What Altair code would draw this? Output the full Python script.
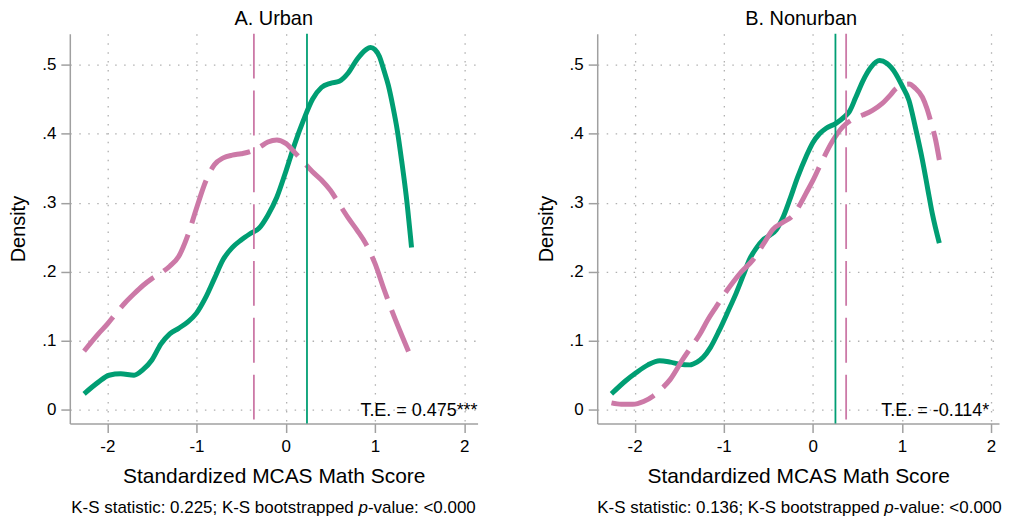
import altair as alt
import pandas as pd

GREEN = "#009E73"
PINK = "#CC79A7"
FONT = "Liberation Sans"

# ---------------- Panel A: Urban ----------------
a_title = "A. Urban"
a_green_x = [-2.26, -2.10, -1.98, -1.85, -1.70, -1.60, -1.50, -1.40, -1.30, -1.20, -1.10, -1.00,
             -0.90, -0.80, -0.70, -0.60, -0.50, -0.40, -0.30, -0.20, -0.10, 0.00, 0.10, 0.20,
             0.30, 0.40, 0.50, 0.60, 0.70, 0.80, 0.90, 0.95, 1.00, 1.05, 1.10, 1.15, 1.20,
             1.25, 1.30, 1.35, 1.41]
a_green_y = [0.023, 0.040, 0.050, 0.052, 0.050, 0.058, 0.072, 0.095, 0.110, 0.118, 0.127, 0.140,
             0.162, 0.190, 0.218, 0.235, 0.246, 0.255, 0.263, 0.282, 0.308, 0.345, 0.385, 0.420,
             0.450, 0.467, 0.473, 0.476, 0.488, 0.508, 0.522, 0.525, 0.522, 0.512, 0.492, 0.470,
             0.440, 0.405, 0.360, 0.310, 0.235]
a_pink_x = [-2.26, -2.10, -2.00, -1.90, -1.80, -1.70, -1.60, -1.50, -1.40, -1.30, -1.20, -1.10,
            -1.00, -0.90, -0.80, -0.70, -0.60, -0.50, -0.40, -0.30, -0.20, -0.10, 0.00, 0.10,
            0.20, 0.30, 0.40, 0.50, 0.60, 0.70, 0.80, 0.90, 1.00, 1.10, 1.20, 1.30, 1.39]
a_pink_y = [0.085, 0.110, 0.124, 0.140, 0.155, 0.168, 0.180, 0.190, 0.198, 0.208, 0.222, 0.252,
            0.292, 0.330, 0.355, 0.365, 0.369, 0.371, 0.374, 0.380, 0.388, 0.391, 0.386, 0.373,
            0.359, 0.345, 0.333, 0.318, 0.298, 0.278, 0.260, 0.240, 0.212, 0.175, 0.140, 0.108,
            0.080]
a_green_mean = 0.238
a_pink_mean = -0.357
a_te = "T.E. = 0.475***"
a_ks = "K-S statistic: 0.225; K-S bootstrapped"

# ---------------- Panel B: Nonurban ----------------
b_title = "B. Nonurban"
b_green_x = [-2.26, -2.10, -1.98, -1.85, -1.72, -1.60, -1.49, -1.38, -1.30, -1.23, -1.15, -1.05,
             -0.95, -0.86, -0.78, -0.71, -0.63, -0.56, -0.48, -0.41, -0.33, -0.26, -0.17, -0.075,
             0.00, 0.075, 0.15, 0.26, 0.35, 0.41, 0.48, 0.56, 0.65, 0.75, 0.83, 0.93, 1.00,
             1.08, 1.15, 1.23, 1.29, 1.34, 1.42]
b_green_y = [0.023, 0.042, 0.054, 0.065, 0.071, 0.069, 0.066, 0.065, 0.069, 0.076, 0.090, 0.115,
             0.143, 0.169, 0.195, 0.218, 0.235, 0.246, 0.253, 0.261, 0.280, 0.304, 0.337, 0.367,
             0.387, 0.400, 0.408, 0.415, 0.424, 0.432, 0.452, 0.476, 0.496, 0.506, 0.502, 0.487,
             0.470, 0.448, 0.410, 0.362, 0.320, 0.285, 0.2415]
b_pink_x = [-2.26, -2.15, -2.02, -1.90, -1.79, -1.70, -1.60, -1.46, -1.37, -1.27, -1.18, -1.08,
            -0.99, -0.90, -0.80, -0.67, -0.55, -0.45, -0.33, -0.22, -0.15, -0.075, 0.00, 0.11,
            0.22, 0.336, 0.45, 0.56, 0.67, 0.78, 0.87, 0.93, 1.00, 1.08, 1.15, 1.23, 1.28,
            1.33, 1.38, 1.42]
b_pink_y = [0.010, 0.008, 0.008, 0.012, 0.020, 0.030, 0.044, 0.073, 0.090, 0.109, 0.130, 0.150,
            0.168, 0.184, 0.200, 0.2175, 0.241, 0.261, 0.272, 0.282, 0.296, 0.314, 0.332, 0.362,
            0.389, 0.410, 0.421, 0.427, 0.434, 0.444, 0.456, 0.465, 0.470, 0.472, 0.466, 0.453,
            0.437, 0.415, 0.390, 0.362]
b_green_mean = 0.254
b_pink_mean = 0.374
b_te = "T.E. = -0.114*"
b_ks = "K-S statistic: 0.136; K-S bootstrapped"

X_TICKS = [-2, -1, 0, 1, 2]
Y_TICKS = [0, 0.1, 0.2, 0.3, 0.4, 0.5]
X_TITLE = "Standardized MCAS Math Score"
Y_TITLE = "Density"
KS_P = "p"
KS_TAIL = "-value: <0.000"

H = 391
FOOT_FS = 17


def panel(title, gx, gy, px, py, gmean, pmean, te, te_x, ks, xmax, width, center):
    xs = alt.Scale(domain=[-2.42, xmax], nice=False, zero=False)
    ys = alt.Scale(domain=[-0.02, 0.545], nice=False, zero=False)
    xaxis = alt.Axis(values=X_TICKS, title=X_TITLE, titleFontSize=21, titlePadding=11,
                     labelExpr="datum.value < 0 ? '-' + format(-datum.value, 'd') : format(datum.value, 'd')",
                     labelPadding=6)
    yaxis = alt.Axis(values=Y_TICKS, title=Y_TITLE, titleFontSize=20, titlePadding=13,
                     labelExpr="datum.value == 0 ? '0' : replace(format(datum.value, '.1f'), '0.', '.')",
                     labelPadding=5)

    green = alt.Chart(pd.DataFrame({"x": gx, "y": gy})).mark_line(
        color=GREEN, strokeWidth=5, interpolate="monotone"
    ).encode(x=alt.X("x:Q", scale=xs, axis=xaxis), y=alt.Y("y:Q", scale=ys, axis=yaxis))

    pink = alt.Chart(pd.DataFrame({"x": px, "y": py})).mark_line(
        color=PINK, strokeWidth=5, interpolate="monotone", strokeDash=[45, 12], strokeCap="butt"
    ).encode(x=alt.X("x:Q", scale=xs), y=alt.Y("y:Q", scale=ys))

    gline = alt.Chart(pd.DataFrame({"x": [gmean]})).mark_rule(
        color=GREEN, strokeWidth=1.8
    ).encode(x=alt.X("x:Q", scale=xs))
    pline = alt.Chart(pd.DataFrame({"x": [pmean]})).mark_rule(
        color=PINK, strokeWidth=1.8, strokeDash=[45, 12]
    ).encode(x=alt.X("x:Q", scale=xs))

    te_text = alt.Chart(pd.DataFrame({"x": [te_x], "y": [0.0], "t": [te]})).mark_text(
        align="right", baseline="middle", fontSize=18, dy=1, color="black"
    ).encode(x=alt.X("x:Q", scale=xs), y=alt.Y("y:Q", scale=ys), text="t:N")

    head = alt.Chart(pd.DataFrame({"t": [title]})).mark_text(
        align="center", baseline="alphabetic", fontSize=20, color="black"
    ).encode(x=alt.value(204.5), y=alt.value(-9), text="t:N")

    c = center + 85
    fy = H + 90
    foot1 = alt.Chart(pd.DataFrame({"t": [ks]})).mark_text(
        align="right", baseline="alphabetic", fontSize=FOOT_FS, color="black"
    ).encode(x=alt.value(c - 4.7), y=alt.value(fy), text="t:N")
    foot2 = alt.Chart(pd.DataFrame({"t": [KS_P]})).mark_text(
        align="left", baseline="alphabetic", fontSize=FOOT_FS, fontStyle="italic", color="black"
    ).encode(x=alt.value(c), y=alt.value(fy), text="t:N")
    foot3 = alt.Chart(pd.DataFrame({"t": [KS_TAIL]})).mark_text(
        align="left", baseline="alphabetic", fontSize=FOOT_FS, color="black"
    ).encode(x=alt.value(c + 9.5), y=alt.value(fy), text="t:N")

    return alt.layer(green, pink, pline, gline, te_text, head, foot1, foot2, foot3).properties(
        width=width, height=H,
    )


left = panel(a_title, a_green_x, a_green_y, a_pink_x, a_pink_y, a_green_mean, a_pink_mean,
             a_te, 2.15, a_ks, 2.15, 409, 204.5)
right = panel(b_title, b_green_x, b_green_y, b_pink_x, b_pink_y, b_green_mean, b_pink_mean,
              b_te, 1.98, b_ks, 2.09, 403, 203)

chart = alt.hconcat(left, right, spacing=58).properties(
    padding={"left": 0, "top": 0, "right": 0, "bottom": 0}
).configure(font=FONT).configure_view(stroke=None).configure_axis(
    domainColor="#a0a0a0", tickColor="#a0a0a0", domainWidth=1.5, tickWidth=1.5, tickSize=9,
    gridColor="#b0b0b0", gridDash=[1.5, 7.5], gridWidth=1.3, grid=True,
    labelFontSize=17, labelColor="black", titleColor="black", titleFontWeight="normal",
    labelFont=FONT, titleFont=FONT
)

chart.save("out.html", embed_options={"renderer": "svg", "actions": False})
